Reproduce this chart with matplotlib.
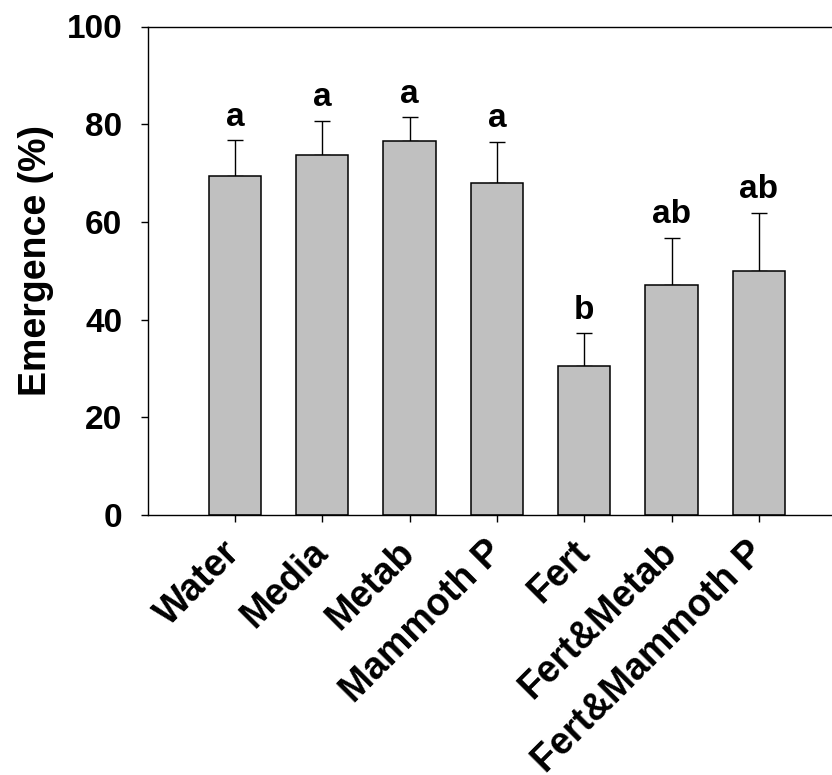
import matplotlib
matplotlib.use("Agg")
import matplotlib.pyplot as plt
import numpy as np
from matplotlib.transforms import offset_copy

plt.rcParams['font.family'] = ['Liberation Sans', 'DejaVu Sans']
plt.rcParams['font.weight'] = 'bold'

categories = ["Water", "Media", "Metab", "Mammoth P", "Fert", "Fert&Metab", "Fert&Mammoth P"]
means = [69.4, 73.6, 76.6, 68.0, 30.6, 47.1, 49.9]
errors = [7.3, 7.1, 4.8, 8.4, 6.6, 9.6, 12.0]
letters = ["a", "a", "a", "a", "b", "ab", "ab"]
yticks = [0, 20, 40, 60, 80, 100]

fig = plt.figure(figsize=(8.32, 7.75), dpi=100)
ax = fig.add_axes([147.5 / 832, 1 - 515 / 775, 1 - 147.5 / 832, (515 - 26.5) / 775])

x = np.arange(len(categories))
ax.bar(x, means, width=0.6, color="#C0C0C0", edgecolor="black", linewidth=1.1, zorder=2)
ax.errorbar(x, means, yerr=[np.zeros(len(errors)), errors], fmt="none",
            ecolor="black", elinewidth=1.0, capsize=6, capthick=1.0, zorder=1)

trans = offset_copy(ax.transData, fig=fig, x=0, y=10.5, units="points")
for xi, m, e, lab in zip(x, means, errors, letters):
    ax.text(xi, m + e, lab, transform=trans, ha="center", va="baseline",
            fontsize=24, fontweight="bold")

ax.set_xlim(-1, 6.836)
ax.set_ylim(0, 100)
ax.set_yticks(yticks)
ax.set_yticklabels([str(t) for t in yticks], fontsize=24, fontweight="bold")
ax.set_xticks(x)
ax.set_xticklabels(categories, fontsize=27, fontweight="bold", rotation=45,
                   ha="right", va="center", rotation_mode="anchor")
ax.tick_params(axis="y", direction="out", length=5, width=1, pad=13)
ax.tick_params(axis="x", direction="out", length=5, width=1, pad=18)
ax.spines["right"].set_visible(False)
for s in ["left", "top", "bottom"]:
    ax.spines[s].set_linewidth(1.0)
ax.set_ylabel("Emergence (%)", fontsize=27, fontweight="bold")
ax.yaxis.set_label_coords(-0.137, 0.52)

fig.savefig("out.png", dpi=100)
